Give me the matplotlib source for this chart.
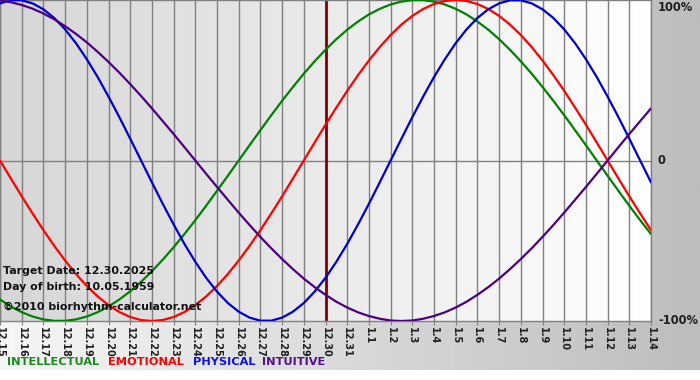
import matplotlib
matplotlib.use("Agg")
import matplotlib.pyplot as plt
import numpy as np
from matplotlib.colors import LinearSegmentedColormap
from matplotlib.transforms import blended_transform_factory

# ---- data ----
dates = ["12.15", "12.16", "12.17", "12.18", "12.19", "12.20", "12.21", "12.22",
         "12.23", "12.24", "12.25", "12.26", "12.27", "12.28", "12.29", "12.30",
         "12.31", "1.1", "1.2", "1.3", "1.4", "1.5", "1.6", "1.7", "1.8", "1.9",
         "1.10", "1.11", "1.12", "1.13", "1.14"]
# values read every half day, from 12.15 to 1.14
intellectual = [-0.866, -0.910, -0.945, -0.972, -0.990, -0.999, -0.999, -0.990, -0.972, -0.945,
                -0.910, -0.866, -0.815, -0.756, -0.690, -0.618, -0.541, -0.458, -0.372, -0.282,
                -0.189, -0.095, 0.000, 0.095, 0.189, 0.282, 0.372, 0.458, 0.541, 0.618,
                0.690, 0.756, 0.815, 0.866, 0.910, 0.945, 0.972, 0.990, 0.999, 0.999,
                0.990, 0.972, 0.945, 0.910, 0.866, 0.815, 0.756, 0.690, 0.618, 0.541,
                0.458, 0.372, 0.282, 0.189, 0.095, 0.000, -0.095, -0.189, -0.282, -0.372,
                -0.458]
emotional = [0.000, -0.112, -0.223, -0.330, -0.434, -0.532, -0.623, -0.707, -0.782, -0.847,
             -0.901, -0.944, -0.975, -0.994, -1.000, -0.994, -0.975, -0.944, -0.901, -0.847,
             -0.782, -0.707, -0.623, -0.532, -0.434, -0.330, -0.223, -0.112,
             0.000, 0.112, 0.223, 0.330, 0.434, 0.532, 0.623, 0.707, 0.782, 0.847,
             0.901, 0.944, 0.975, 0.994, 1.000, 0.994, 0.975, 0.944, 0.901, 0.847,
             0.782, 0.707, 0.623, 0.532, 0.434, 0.330, 0.223, 0.112,
             0.000, -0.112, -0.223, -0.330, -0.434]
physical = [0.979, 0.998, 0.998, 0.979, 0.942, 0.888, 0.817, 0.731, 0.631, 0.520,
            0.398, 0.270, 0.136, 0.000, -0.136, -0.270, -0.398, -0.520, -0.631, -0.731,
            -0.817, -0.888, -0.942, -0.979, -0.998, -0.998, -0.979, -0.942, -0.888, -0.817,
            -0.731, -0.631, -0.520, -0.398, -0.270, -0.136, 0.000, 0.136, 0.270, 0.398,
            0.520, 0.631, 0.731, 0.817, 0.888, 0.942, 0.979, 0.998, 0.998, 0.979,
            0.942, 0.888, 0.817, 0.731, 0.631, 0.520, 0.398, 0.270, 0.136, 0.000,
            -0.136]
intuitive = [0.997, 0.986, 0.969, 0.946, 0.916, 0.880, 0.837, 0.789, 0.736, 0.677,
             0.614, 0.547, 0.476, 0.402, 0.325, 0.245, 0.165, 0.083, 0.000, -0.083,
             -0.165, -0.245, -0.325, -0.402, -0.476, -0.547, -0.614, -0.677, -0.736, -0.789,
             -0.837, -0.880, -0.916, -0.946, -0.969, -0.986, -0.997, -1.000, -0.997, -0.986,
             -0.969, -0.946, -0.916, -0.880, -0.837, -0.789, -0.736, -0.677, -0.614, -0.547,
             -0.476, -0.402, -0.325, -0.245, -0.165, -0.083, 0.000, 0.083, 0.165, 0.245,
             0.325]
target_label = "12.30"
y_labels = ["100%", "0", "-100%"]
y_values = [1, 0, -1]
series_names = ["INTELLECTUAL", "EMOTIONAL", "PHYSICAL", "INTUITIVE"]
info_lines = ["Target Date: 12.30.2025", "Day of birth: 10.05.1959",
              "\u00a92010 biorhythm-calculator.net"]

# ---- styles ----
colors = ["#008000", "#ff0000", "#0000cc", "#4b0082"]
legend_colors = ["#1a8a1a", "#ff0000", "#1010e0", "#50108a"]
W, H = 700, 380

fig = plt.figure(figsize=(7, 3.8), dpi=100)
fig.patch.set_facecolor("white")

# canvas background gradient (light left -> gray right)
bg = fig.add_axes([0, 10 / H, 1, 1 - 10 / H], zorder=0)
cmap_bg = LinearSegmentedColormap.from_list("bg", ["#f6f6f6", "#bdbdbd"])
bg.imshow(np.linspace(0, 1, 256).reshape(1, -1), aspect="auto", cmap=cmap_bg,
          extent=[0, 1, 0, 1])
bg.axis("off")

x = np.arange(len(dates))
n_days = len(dates) - 1
xs = np.linspace(0, n_days, len(physical))  # half-day sample times

ax = fig.add_axes([0, 59 / H, 651 / W, 321 / H], zorder=1)
ax.set_xlim(0, n_days)
ax.set_ylim(-1, 1)
cmap_pa = LinearSegmentedColormap.from_list("pa", ["#d6d6d6", "#ffffff"])
ax.imshow(np.linspace(0, 1, 256).reshape(1, -1), aspect="auto", cmap=cmap_pa,
          extent=[0, n_days, -1, 1], zorder=0)

ax.set_xticks(x)
ax.set_xticklabels(dates, rotation=-90, fontsize=7, fontweight="bold",
                   color="#202020", va="top", ha="center")
ax.tick_params(axis="x", length=3, color="#808080", pad=1)
ax.set_yticks([])
for xi in x:
    ax.axvline(xi, color="#808080", lw=1, zorder=1)
ax.axhline(0, color="#808080", lw=1, zorder=1)
for s in ax.spines.values():
    s.set_color("#808080")
    s.set_linewidth(1)

ti = dates.index(target_label)
ax.axvline(x[ti], color="#800000", lw=2, zorder=2)

for vals, c in zip([intellectual, emotional, physical, intuitive], colors):
    ax.plot(xs, vals, color=c, lw=1.6, zorder=3, solid_capstyle="round",
            solid_joinstyle="round")

# right-side labels
tr = blended_transform_factory(ax.transAxes, ax.transData)
for lab, v in zip(y_labels, y_values):
    va = "top" if v == 1 else "center"
    yoff = -1 if v == 1 else 0
    ax.annotate(lab, xy=(1, v), xycoords=tr, xytext=(5, yoff),
                textcoords="offset points", fontsize=8.3, fontweight="bold",
                color="#202020", va=va, ha="left", annotation_clip=False)
ax.tick_params(axis="y", length=0)

# info text block
for txt, ypix in zip(info_lines, [271, 287, 307]):
    fig.text(3 / W, 1 - ypix / H, txt, fontsize=7.9, fontweight="bold",
             color="#111111", va="center", ha="left", zorder=5)

# legend words
xpos = [7, 108, 193, 262]
for name, c, xp in zip(series_names, legend_colors, xpos):
    fig.text(xp / W, 1 - 362 / H, name, fontsize=8.2, fontweight="bold",
             color=c, va="center", ha="left")

fig.savefig("out.png", dpi=100)
